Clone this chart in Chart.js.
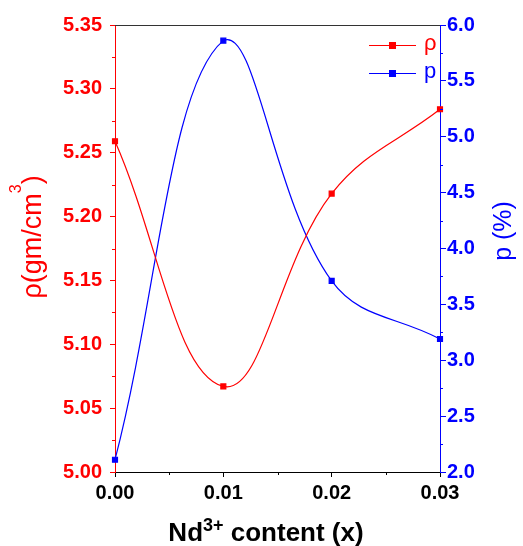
<!DOCTYPE html>
<html>
<head>
<meta charset="utf-8">
<script src="https://cdn.jsdelivr.net/npm/chart.js@4.4.0/dist/chart.umd.min.js"></script>
<style>
  html, body { margin: 0; padding: 0; background: #fff; }
  #wrap { width: 523px; height: 546px; }
</style>
</head>
<body>
<div id="wrap"><canvas id="c" width="523" height="546"></canvas></div>
<script>
const ndContent = [0.00, 0.01, 0.02, 0.03];
const density = [5.259, 5.067, 5.218, 5.284];
const porosity = [2.11, 5.86, 3.71, 3.19];

const RED = 'rgb(255,0,0)';
const BLUE = 'rgb(0,0,255)';
const FONT = "'Liberation Sans', Arial, sans-serif";

// text with superscripts, optionally rotated around its centre
function richText(ctx, runs, cx, cy, rot, color) {
  ctx.save();
  ctx.translate(cx, cy);
  ctx.rotate(rot);
  ctx.fillStyle = color;
  ctx.textBaseline = 'alphabetic';
  let w = 0;
  runs.forEach(r => { ctx.font = r.font; w += ctx.measureText(r.text).width; });
  let x = -w / 2;
  runs.forEach(r => {
    ctx.font = r.font;
    ctx.fillText(r.text, x, r.dy || 0);
    x += ctx.measureText(r.text).width;
  });
  ctx.restore();
}

// minor ticks, top frame, axis titles and the line+marker legend
const extras = {
  id: 'extras',
  afterDraw(chart) {
    const ctx = chart.ctx;
    const a = chart.chartArea;
    ctx.save();
    ctx.lineWidth = 1;
    ctx.strokeStyle = '#333';
    ctx.beginPath();
    ctx.moveTo(a.left, a.top + 0.5);
    ctx.lineTo(a.right, a.top + 0.5);
    ctx.stroke();
    const minor = (scale, step, color, side) => {
      ctx.strokeStyle = color;
      for (let v = scale.min + step / 2; v < scale.max; v += step) {
        const p = Math.round(scale.getPixelForValue(v)) + 0.5;
        ctx.beginPath();
        if (side === 'x') { ctx.moveTo(p, a.bottom); ctx.lineTo(p, a.bottom + 3); }
        if (side === 'l') { ctx.moveTo(a.left, p); ctx.lineTo(a.left - 3, p); }
        if (side === 'r') { ctx.moveTo(a.right, p); ctx.lineTo(a.right + 3, p); }
        ctx.stroke();
      }
    };
    minor(chart.scales.x, 0.01, '#000', 'x');
    minor(chart.scales.y, 0.05, RED, 'l');
    minor(chart.scales.y1, 0.5, BLUE, 'r');

    // legend
    ctx.font = '22px ' + FONT;
    ctx.textBaseline = 'middle';
    chart.data.datasets.forEach((ds, i) => {
      const y = 45 + i * 28;
      ctx.strokeStyle = ds.borderColor;
      ctx.beginPath();
      ctx.moveTo(369, y + 0.5);
      ctx.lineTo(416, y + 0.5);
      ctx.stroke();
      ctx.fillStyle = ds.borderColor;
      ctx.fillRect(389, y - 3, 7, 7);
      ctx.fillText(ds.label, 424, y - 1);
    });
    ctx.restore();

    // axis titles
    richText(ctx, [
      { text: 'ρ(gm/cm', font: '27px ' + FONT },
      { text: '3', font: '16px ' + FONT, dy: -20 },
      { text: ')', font: '27px ' + FONT }
    ], 41, 237, -Math.PI / 2, RED);
    richText(ctx, [{ text: 'p (%)', font: '25px ' + FONT }], 511, 231, -Math.PI / 2, BLUE);
    richText(ctx, [
      { text: 'Nd', font: 'bold 26px ' + FONT },
      { text: '3+', font: 'bold 18px ' + FONT, dy: -10 },
      { text: ' content (x)', font: 'bold 26px ' + FONT }
    ], 266, 541, 0, '#000');
  }
};

new Chart(document.getElementById('c').getContext('2d'), {
  type: 'line',
  data: {
    datasets: [{
      label: 'ρ',
      data: ndContent.map((x, i) => ({ x: x, y: density[i] })),
      borderColor: RED,
      backgroundColor: RED,
      borderWidth: 1.2,
      pointStyle: 'rect',
      pointRadius: 3.5,
      tension: 0.4,
      yAxisID: 'y'
    }, {
      label: 'p',
      data: ndContent.map((x, i) => ({ x: x, y: porosity[i] })),
      borderColor: BLUE,
      backgroundColor: BLUE,
      borderWidth: 1.2,
      pointStyle: 'rect',
      pointRadius: 3.5,
      tension: 0.4,
      yAxisID: 'y1'
    }]
  },
  plugins: [extras],
  options: {
    responsive: false,
    animation: false,
    clip: false,
    layout: { padding: { top: 25, left: 0, right: 0, bottom: 0 } },
    plugins: { legend: { display: false }, tooltip: { enabled: false } },
    scales: {
      x: {
        type: 'linear',
        min: 0, max: 0.03,
        afterFit: s => { s.height = 74; },
        afterBuildTicks: s => { s.ticks = ndContent.map(v => ({ value: v })); },
        border: { color: '#000', width: 1 },
        grid: { drawOnChartArea: false, tickLength: 5, color: '#000' },
        ticks: {
          color: '#000', padding: 4,
          font: { family: FONT, size: 20, weight: 'bold' },
          callback: v => v.toFixed(2)
        }
      },
      y: {
        position: 'left',
        min: 5.0, max: 5.35,
        afterFit: s => { s.width = 115; },
        border: { color: RED, width: 1 },
        grid: { drawOnChartArea: false, tickLength: 5, color: RED },
        ticks: {
          stepSize: 0.05, color: RED, padding: 8,
          font: { family: FONT, size: 20, weight: 'bold' },
          callback: v => v.toFixed(2)
        }
      },
      y1: {
        position: 'right',
        min: 2.0, max: 6.0,
        afterFit: s => { s.width = 83; },
        border: { color: BLUE, width: 1 },
        grid: { drawOnChartArea: false, tickLength: 6, color: BLUE },
        ticks: {
          stepSize: 0.5, color: BLUE, padding: 1,
          font: { family: FONT, size: 20, weight: 'bold' },
          callback: v => v.toFixed(1)
        }
      }
    }
  }
});
</script>
</body>
</html>
